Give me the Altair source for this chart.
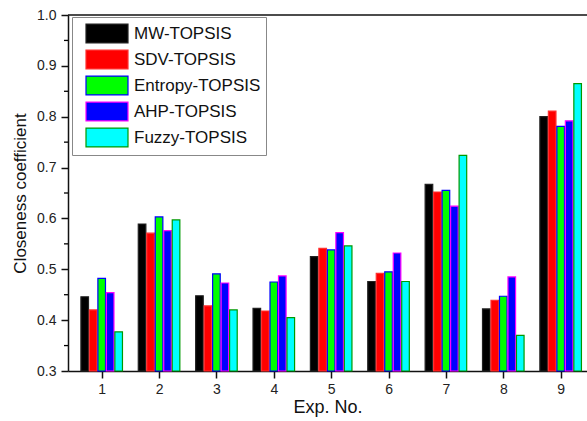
import altair as alt
import pandas as pd

exp_no = [1, 2, 3, 4, 5, 6, 7, 8, 9]
series = ["MW-TOPSIS", "SDV-TOPSIS", "Entropy-TOPSIS", "AHP-TOPSIS", "Fuzzy-TOPSIS"]
mw_topsis = [0.446, 0.589, 0.448, 0.423, 0.525, 0.476, 0.667, 0.422, 0.800]
sdv_topsis = [0.420, 0.571, 0.428, 0.418, 0.541, 0.492, 0.652, 0.439, 0.811]
entropy_topsis = [0.482, 0.603, 0.491, 0.475, 0.538, 0.495, 0.655, 0.447, 0.781]
ahp_topsis = [0.454, 0.576, 0.473, 0.487, 0.572, 0.532, 0.624, 0.485, 0.792]
fuzzy_topsis = [0.377, 0.597, 0.420, 0.405, 0.546, 0.476, 0.724, 0.370, 0.865]

fill_colors = ["#000000", "#FF0000", "#00FF00", "#0000FF", "#00FFFF"]
stroke_colors = ["#222222", "#FF3030", "#0000FF", "#FF00FF", "#009900"]
y_major = [0.3, 0.4, 0.5, 0.6, 0.7, 0.8, 0.9, 1.0]
y_minor = [0.35, 0.45, 0.55, 0.65, 0.75, 0.85, 0.95]

rows = []
for i, (name, vals) in enumerate(zip(series, [mw_topsis, sdv_topsis, entropy_topsis, ahp_topsis, fuzzy_topsis])):
    for e, v in zip(exp_no, vals):
        rows.append({"exp": e, "series": name, "idx": i, "value": v})
df = pd.DataFrame(rows)

FONT = "Liberation Sans"
YTITLE = "Closeness coefficient"

legend = alt.Legend(
    title=None, orient="none", legendX=4, legendY=2, padding=5,
    symbolOffset=18.5, labelOffset=15.5, symbolType="M-2,-0.9H2V0.9H-2Z",
    symbolSize=441, symbolStrokeWidth=1.2, labelFontSize=17, labelFont=FONT,
    labelColor="#111111", strokeColor="#888888", fillColor="white", rowPadding=1,
    labelLimit=300,
)

bars = alt.Chart(df).transform_calculate(
    xpos="datum.exp + (datum.idx - 2) * 0.148"
).mark_bar(width=7.6, strokeWidth=1.2, orient="vertical").encode(
    x=alt.X("xpos:Q", scale=alt.Scale(domain=[0.5, 9.372], nice=False, zero=False),
            axis=alt.Axis(values=exp_no, format="d", title="Exp. No.", labelPadding=4,
                          titlePadding=2, titleFontSize=18)),
    y=alt.Y("value:Q", scale=alt.Scale(domain=[0.3, 1.0], nice=False, zero=False),
            axis=alt.Axis(values=y_major, format=".1f", title=YTITLE, labelPadding=5, titlePadding=7)),
    y2=alt.datum(0.3),
    color=alt.Color("series:N", scale=alt.Scale(domain=series, range=fill_colors), legend=legend),
    stroke=alt.Stroke("series:N", scale=alt.Scale(domain=series, range=stroke_colors), legend=legend),
)

minor = alt.Chart(pd.DataFrame({"v": y_minor})).mark_rule(color="black", strokeWidth=1.3).encode(
    y=alt.Y("v:Q", title=YTITLE), x=alt.value(-4), x2=alt.value(0)
)

top_line = alt.Chart(pd.DataFrame({"v": [1.0]})).mark_rule(color="#111111", strokeWidth=1.6).encode(
    y=alt.Y("v:Q", title=YTITLE)
)

chart = alt.layer(bars, minor, top_line).properties(
    width=519, height=356,
    padding={"left": 68, "top": 15, "right": 0, "bottom": 50},
    autosize=alt.AutoSizeParams(type="none"),
    background="white",
).configure_view(stroke=None).configure_axis(
    domainColor="#111111", domainWidth=1.5, tickColor="#111111", tickWidth=1.5, tickSize=7,
    labelFont=FONT, labelFontSize=14, labelColor="#222222",
    titleFont=FONT, titleFontSize=17, titleFontWeight="normal", titleColor="#111111",
    grid=False,
)

chart.save("out.html", embed_options={"renderer": "svg", "actions": False})
